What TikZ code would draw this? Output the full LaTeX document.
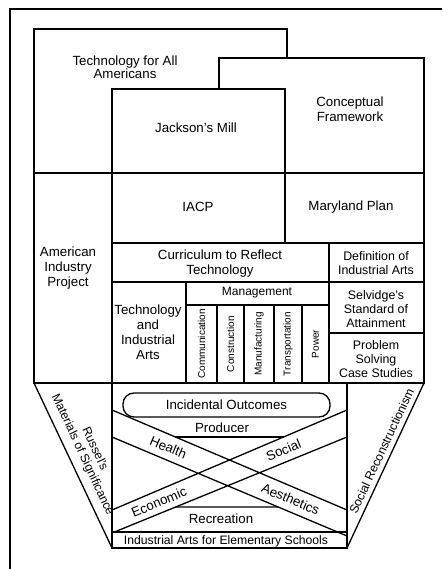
\documentclass[tikz,border=0pt]{standalone}
\usepackage{fontspec}
\setmainfont{Liberation Sans}
\usetikzlibrary{calc}
\tikzset{
  wall/.style={draw=black,line width=1.3pt,fill=white},
  edge/.style={draw=black,line width=1.3pt},
  lbl/.style={align=center,inner sep=0pt,font=\fontsize{13.3}{15}\selectfont},
  sml/.style={align=center,inner sep=0pt,font=\fontsize{12.4}{14.2}\selectfont},
  col/.style={inner sep=0pt,rotate=90,font=\fontsize{10}{11}\selectfont}
}

\begin{document}
\begin{tikzpicture}[x=1pt,y=-1pt]
\useasboundingbox (0,0) rectangle (442,569);
\draw[edge] (10,569) -- (10,9) -- (442,9);
\draw[wall] (34,29) rectangle (287,173);
\draw[wall] (219,58) rectangle (424,173);
\draw[wall] (112,89) rectangle (285,173);
\node[lbl,font=\fontsize{13.3}{13.5}\selectfont] (tfaa) at (125,67) {Technology for All\\Americans};
\node[lbl] (cframe) at (350,109) {Conceptual\\Framework};
\node[lbl] (jmill) at (196,128) {Jackson's Mill};

\draw[wall] (34,173) rectangle (112,383);
\draw[wall] (112,173) rectangle (285,243);
\draw[wall] (285,173) rectangle (424,243);
\draw[wall] (112,243) rectangle (329,282);
\draw[wall] (329,243) rectangle (424,282);
\draw[wall] (112,282) rectangle (186,383);
\draw[wall] (186,282) rectangle (329,305);
\draw[wall] (329,282) rectangle (424,333);
\draw[wall] (329,333) rectangle (424,383);
\draw[edge] (186,305) -- (186,383) (217,305) -- (217,383) (244,305) -- (244,383)
  (274,305) -- (274,383) (302,305) -- (302,383);
\node[lbl] (aip) at (68,268) {American\\Industry\\Project};
\node[lbl] (iacp) at (198,207) {IACP};
\node[lbl] (mplan) at (351,207) {Maryland Plan};
\node[lbl] (crt) at (220,264) {Curriculum to Reflect\\Technology};
\node[sml] (defia) at (376,263) {Definition of\\Industrial Arts};
\node[lbl] (tia) at (148,332) {Technology\\and\\Industrial\\Arts};
\node[lbl,font=\fontsize{12}{14}\selectfont] (mgmt) at (257,293) {Management};
\node[sml] (selv) at (376,309) {Selvidge's\\Standard of\\Attainment};
\node[sml] (pscs) at (376,359) {Problem\\Solving\\Case Studies};
\node[col] (comm) at (201.5,344) {Communication};
\node[col] (cons) at (230.5,344) {Construction};
\node[col] (manu) at (259,344) {Manufacturing};
\node[col] (tran) at (288,344) {Transportation};
\node[col] (powr) at (315.5,344) {Power};

\coordinate (tl) at (34,383); \coordinate (tr) at (424,383);
\coordinate (il) at (112,383); \coordinate (ir) at (347,383);
\coordinate (bl) at (112,548); \coordinate (br) at (347,548);
\draw[edge] (tl) -- (bl) (tr) -- (br);
\draw[edge] (il) rectangle (br);
\draw[edge] (112,532) -- (347,532);

\coordinate (du1) at (112,410); \coordinate (du2) at (347,510);
\coordinate (dl1) at (112,437); \coordinate (dl2) at (347,536);
\coordinate (au1) at (112,510); \coordinate (au2) at (347,410);
\coordinate (al1) at (112,533); \coordinate (al2) at (347,437);
\draw[edge] (du1) -- (du2) (dl1) -- (dl2) (au1) -- (au2) (al1) -- (al2);
\coordinate (p1) at (112,437); \coordinate (p2) at (347,437);
\coordinate (r1) at (112,507); \coordinate (r2) at (347,507);
\draw[edge] (intersection of du1--du2 and p1--p2) -- (intersection of au1--au2 and p1--p2);
\draw[edge] (intersection of al1--al2 and r1--r2) -- (intersection of dl1--dl2 and r1--r2);

\node[wall,rounded corners=11pt,minimum width=207pt,minimum height=24pt,inner sep=0pt,
  font=\fontsize{13.3}{15}\selectfont] (inc) at (226.5,405) {Incidental Outcomes};
\node[lbl] (prod) at (222,428) {Producer};
\node[lbl] (recr) at (221,519) {Recreation};
\node[lbl,font=\fontsize{12.2}{14}\selectfont] (iaes) at (226,541) {Industrial Arts for Elementary Schools};
\path ($(du1)!.5!(dl1)$) -- ($(du2)!.5!(dl2)$)
  node[lbl,sloped,pos=.24] (hlth) {Health}
  node[lbl,sloped,pos=.76] (aest) {Aesthetics};
\path ($(au1)!.5!(al1)$) -- ($(au2)!.5!(al2)$)
  node[lbl,sloped,pos=.2] (econ) {Economic}
  node[lbl,sloped,pos=.73] (socl) {Social};

\node[sml,rotate=-65,font=\fontsize{12.2}{13.4}\selectfont] (russ) at (88.5,452) {Russel's\\Materials of Significance};
\node[sml,rotate=65,font=\fontsize{12.2}{14}\selectfont] (srec) at (381.5,451) {Social Reconstructionism};
\end{tikzpicture}
\end{document}
